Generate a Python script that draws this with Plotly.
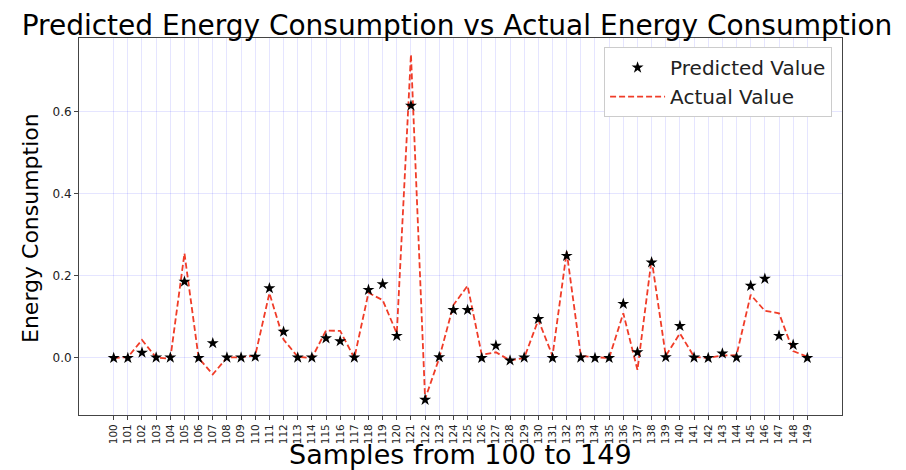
import plotly.graph_objects as go

samples = list(range(100, 150))
predicted = [0.000, 0.000, 0.013, 0.001, 0.001, 0.186, 0.000, 0.036, 0.001, 0.001,
             0.003, 0.170, 0.064, 0.001, 0.001, 0.048, 0.041, 0.001, 0.166, 0.180,
             0.054, 0.615, -0.102, 0.002, 0.117, 0.117, 0.000, 0.030, -0.006, 0.001,
             0.095, 0.000, 0.249, 0.001, 0.000, 0.000, 0.132, 0.014, 0.233, 0.002,
             0.078, 0.001, 0.000, 0.011, 0.001, 0.176, 0.193, 0.054, 0.032, 0.000]
actual = [0.000, 0.002, 0.044, 0.001, -0.002, 0.255, 0.000, -0.040, 0.001, 0.002,
          0.006, 0.158, 0.045, 0.003, 0.000, 0.067, 0.066, 0.000, 0.159, 0.141,
          0.060, 0.740, -0.100, 0.000, 0.129, 0.176, 0.008, 0.014, -0.006, 0.000,
          0.093, 0.005, 0.259, 0.005, 0.002, 0.000, 0.109, -0.029, 0.241, 0.005,
          0.060, 0.003, 0.000, 0.006, 0.007, 0.154, 0.115, 0.109, 0.017, 0.003]
y_ticks = [0.0, 0.2, 0.4, 0.6]

# page body has an 8px default margin; figure is sized to fill the rest
W, H = 898, 462
L, T, PW, PH = 71, 30, 763, 377

fig = go.Figure()
fig.add_trace(go.Scatter(
    x=samples, y=actual, mode="lines", name="Actual Value",
    line=dict(color="#f03c28", width=1.8, dash="6px,3px"), legendrank=2))
fig.add_trace(go.Scatter(
    x=samples, y=predicted, mode="markers", name="Predicted Value",
    marker=dict(symbol="star", size=9, color="black"), legendrank=1))

grid = "rgba(0,0,255,0.1)"
fig.update_layout(
    width=W, height=H,
    margin=dict(l=L, r=W - L - PW, t=T, b=H - T - PH, autoexpand=False),
    paper_bgcolor="white", plot_bgcolor="white",
    font=dict(family="DejaVu Sans", color="#222"),
    title=dict(text="Predicted Energy Consumption vs Actual Energy Consumption",
               x=0.5, xanchor="center", y=1 - 17 / H, yanchor="middle",
               yref="container", font=dict(size=28, color="black")),
    showlegend=True,
    legend=dict(x=0.987, y=0.976, xanchor="right", yanchor="top",
                bgcolor="white", bordercolor="#cccccc", borderwidth=1,
                font=dict(size=20, color="#222"), itemwidth=55,
                tracegroupgap=0),
    xaxis=dict(range=[97.55, 151.45], tickvals=samples,
               ticktext=[str(s) for s in samples], tickangle=-90,
               tickfont=dict(size=10.5, color="#222"),
               showline=True, linecolor="#444", linewidth=1, mirror=True,
               ticks="outside", ticklen=4, tickcolor="#444",
               showgrid=True, gridcolor=grid, gridwidth=1, zeroline=False),
    yaxis=dict(range=[-0.139, 0.780], tickvals=y_ticks,
               ticktext=["%.1f" % v for v in y_ticks],
               tickfont=dict(size=12, color="#222"),
               showline=True, linecolor="#444", linewidth=1, mirror=True,
               ticks="outside", ticklen=4, tickcolor="#444",
               showgrid=True, gridcolor=grid, gridwidth=1, zeroline=False),
    annotations=[
        dict(text="Samples from 100 to 149", xref="paper", yref="paper",
             x=0.5, y=-(447 - (T + PH)) / PH, xanchor="center", yanchor="middle",
             showarrow=False, font=dict(size=27, color="black")),
        dict(text="Energy Consumption", xref="paper", yref="paper",
             x=(22 - L) / PW, y=(T + PH - 220) / PH, xanchor="center",
             yanchor="middle", textangle=-90, showarrow=False,
             font=dict(size=22, color="black")),
    ],
)

fig.write_html("out.html")
